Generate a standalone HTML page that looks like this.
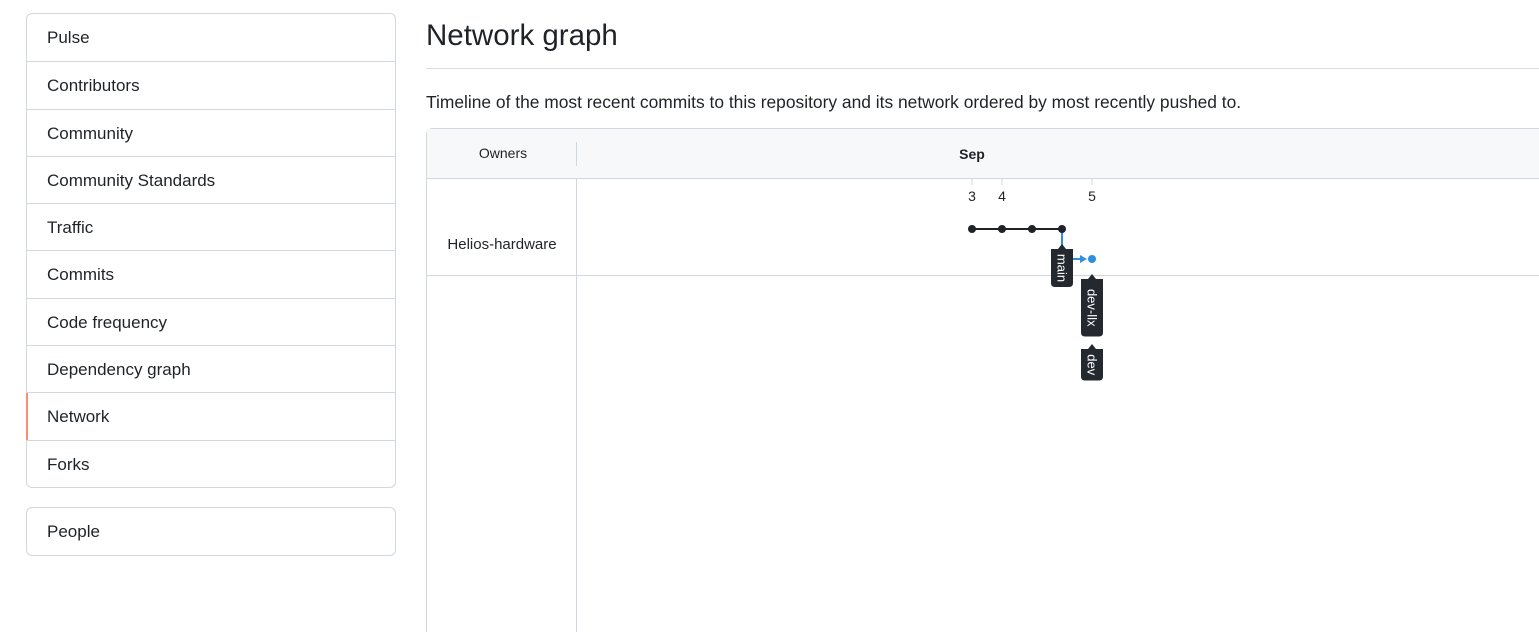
<!DOCTYPE html>
<html><head><meta charset="utf-8"><style>
body{margin:0;width:1539px;height:632px;overflow:hidden;background:#fff;font-family:"Liberation Sans",sans-serif;color:#1f2328;position:relative}
.box{position:absolute;left:26px;width:368px;border:1px solid #d0d7de;border-radius:6px;}
.item{height:47.3px;box-sizing:border-box;border-top:1px solid #d0d7de;padding-left:20px;line-height:47px;font-size:17px;position:relative}
.item:first-child{border-top:none}
.sel::before{content:"";position:absolute;left:-1px;top:0;bottom:0;width:2px;background:#fd8c73}
h1{position:absolute;left:426px;top:19px;margin:0;font-weight:400;font-size:29.5px}
.hr{position:absolute;left:426px;right:0;top:68px;border-top:1px solid #d8dee4}
.desc{position:absolute;left:426px;top:92px;font-size:17.4px}
</style></head><body>
<div class="box" style="top:13px">
<div class="item">Pulse</div>
<div class="item">Contributors</div>
<div class="item">Community</div>
<div class="item">Community Standards</div>
<div class="item">Traffic</div>
<div class="item">Commits</div>
<div class="item">Code frequency</div>
<div class="item">Dependency graph</div>
<div class="item sel">Network</div>
<div class="item">Forks</div>
</div>
<div class="box" style="top:507px">
<div class="item">People</div>
</div>
<h1>Network graph</h1>
<div class="hr"></div>
<div class="desc">Timeline of the most recent commits to this repository and its network ordered by most recently pushed to.</div>
<svg id="g" style="position:absolute;left:0;top:0" width="1539" height="632">
<rect x="426.5" y="128.5" width="1200" height="520" rx="6" fill="#fff" stroke="#d0d7de"/>
<rect x="427" y="129" width="1200" height="49" fill="#f6f8fa"/>
<line x1="426" y1="178.5" x2="1539" y2="178.5" stroke="#d0d7de"/>
<line x1="576.5" y1="142" x2="576.5" y2="166" stroke="#d0d7de"/>
<line x1="576.5" y1="178" x2="576.5" y2="632" stroke="#d0d7de"/>
<line x1="426" y1="275.5" x2="1539" y2="275.5" stroke="#d0d7de"/>
<text x="503" y="158" font-size="14" text-anchor="middle" fill="#1f2328">Owners</text>
<text x="972" y="159" font-size="14" font-weight="bold" text-anchor="middle" fill="#1f2328">Sep</text>
<text x="502" y="249" font-size="15" text-anchor="middle" fill="#1f2328">Helios-hardware</text>
<g id="marks"></g>
</svg>
<script>
const dayLabels=["3","4","5"];
const dayCols=[0,1,4];
const mainCommits=[0,1,2,3];
const branchCommits=[4];
const branchFrom=3;
const labels=[{name:"main",col:3,row:0,slot:0},{name:"dev-llx",col:4,row:1,slot:0},{name:"dev",col:4,row:1,slot:1}];
const X=c=>972+30*c, Y=r=>229+30*r;
const ns="http://www.w3.org/2000/svg",g=document.getElementById("marks");
function mk(t,a){const e=document.createElementNS(ns,t);for(const k in a)e.setAttribute(k,a[k]);g.appendChild(e);return e;}
dayLabels.forEach((d,i)=>{const x=X(dayCols[i]);
const l=mk("line",{x1:x,y1:178,x2:x,y2:185,stroke:"#d0d7de"});

const t=mk("text",{x:x,y:201,"font-size":14,"text-anchor":"middle",fill:"#1f2328"});t.textContent=d;
});
const ml=mk("line",{x1:X(mainCommits[0]),y1:Y(0),x2:X(mainCommits[mainCommits.length-1]),y2:Y(0),stroke:"#1f2328","stroke-width":2});

const bx=X(branchFrom),tx=X(branchCommits[0]);
const bp=mk("path",{d:`M${bx} ${Y(0)} L${bx} ${Y(1)} L${tx-8} ${Y(1)}`,stroke:"#2f8fdd","stroke-width":2,fill:"none"});

const ar=mk("path",{d:`M${tx-12} ${Y(1)-4} L${tx-5} ${Y(1)} L${tx-12} ${Y(1)+4}Z`,fill:"#2f8fdd"});

mainCommits.forEach(c=>{const e=mk("circle",{cx:X(c),cy:Y(0),r:4,fill:"#1f2328"});
});
branchCommits.forEach(c=>{const e=mk("circle",{cx:X(c),cy:Y(1),r:4,fill:"#2f8fdd"});
});
labels.forEach(L=>{const x=X(L.col),y0=Y(L.row)+16+L.slot*70,h=L.name.length*6.5+12;
const p=mk("path",{d:`M${x-11} ${y0+4} L${x-4} ${y0+4} L${x} ${y0-1} L${x+4} ${y0+4} L${x+11} ${y0+4} L${x+11} ${y0+4+h-4} Q${x+11} ${y0+4+h} ${x+7} ${y0+4+h} L${x-7} ${y0+4+h} Q${x-11} ${y0+4+h} ${x-11} ${y0+h} Z`,fill:"#24292f"});

const cy=y0+4+h/2;const t=mk("text",{x:x,y:cy,"font-size":13,fill:"#fff","text-anchor":"middle","dominant-baseline":"central",transform:`rotate(90 ${x} ${cy})`});
t.textContent=L.name;});
</script>
</body></html>
